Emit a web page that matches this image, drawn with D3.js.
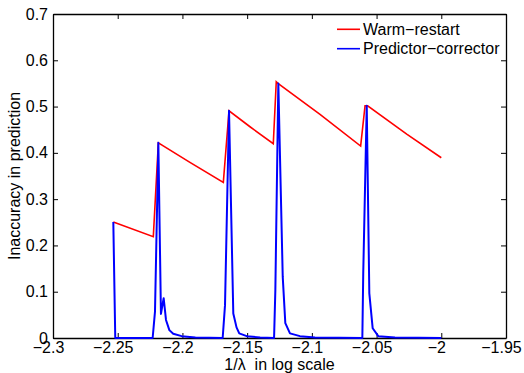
<!DOCTYPE html>
<html>
<head>
<meta charset="utf-8">
<script src="https://cdn.jsdelivr.net/npm/d3@7"></script>
<style>
  body { margin: 0; background: #fff; }
  svg { font-family: "Liberation Sans", Arial, Helvetica, sans-serif; }
</style>
</head>
<body>
<svg id="chart"></svg>
<script>
// values
const warmX = [-2.2534, -2.2225, -2.2186, -2.1942, -2.1684, -2.1640, -2.1478, -2.1298,
               -2.1275, -2.1262, -2.0937, -2.0623, -2.0589, -2.0569, -2.0267, -2.0]
const warmY = [0.2506, 0.2188, 0.4218, 0.3795, 0.3363, 0.4909, 0.4564, 0.4197,
               0.5536, 0.5501, 0.4830, 0.4147, 0.5017, 0.5017, 0.4405, 0.3894]

const pcX = [-2.2534, -2.2519, -2.2230, -2.2212, -2.2186, -2.2166, -2.2145, -2.2127, -2.2101,
             -2.2071, -2.2006, -2.19, -2.1689, -2.1671, -2.1640, -2.1607, -2.1582, -2.1561,
             -2.1503, -2.14, -2.1292, -2.1282, -2.1259, -2.1225, -2.1205, -2.1169, -2.1092,
             -2.0976, -2.0610, -2.0603, -2.0576, -2.0556, -2.0530, -2.0487, -2.0358, -2.0]
const pcY = [0.2506, 0, 0, 0.057, 0.4218, 0.052, 0.086, 0.039, 0.017,
             0.009, 0.004, 0.001, 0, 0.071, 0.4909, 0.053, 0.023, 0.010,
             0.004, 0.001, 0, 0.104, 0.550, 0.132, 0.032, 0.010, 0.004,
             0.001, 0, 0.140, 0.5017, 0.0965, 0.021, 0.004, 0.001, 0]

const xTicks = [-2.3, -2.25, -2.2, -2.15, -2.1, -2.05, -2, -1.95]
const xTickLabels = ["\u22122.3", "\u22122.25", "\u22122.2", "\u22122.15", "\u22122.1", "\u22122.05", "\u22122", "\u22121.95"]
const yTicks = [0, 0.1, 0.2, 0.3, 0.4, 0.5, 0.6, 0.7]
const yTickLabels = ["0", "0.1", "0.2", "0.3", "0.4", "0.5", "0.6", "0.7"]

const seriesNames = ["Warm\u2212restart", "Predictor\u2212corrector"]
const seriesColors = ["#ff0000", "#0000ff"]

const W = 524, H = 373
const margin = {left: 53, right: 18, top: 14, bottom: 35}

const svg = d3.select('#chart').attr('width', W).attr('height', H)

const x = d3.scaleLinear().domain([-2.3, -1.95]).range([margin.left, W - margin.right])
const y = d3.scaleLinear().domain([0, 0.7]).range([H - margin.bottom, margin.top])

// axes, ticks pointing inward like matlab
const tickFont = '16px'
svg.append('g')
  .attr('transform', `translate(0,${y(0)})`)
  .call(d3.axisBottom(x).tickValues(xTicks).tickSize(-5).tickSizeOuter(0).tickPadding(4)
    .tickFormat((d, i) => xTickLabels[i]))
  // labels sit a bit left of their tick in the original (minus sign not counted)
  .call(g => g.selectAll('text').style('font-size', tickFont).attr('fill', '#000').attr('x', -5))

svg.append('g')
  .attr('transform', `translate(0,${y(0.7)})`)
  .call(d3.axisTop(x).tickValues(xTicks).tickSize(-5).tickSizeOuter(0).tickFormat(''))

svg.append('g')
  .attr('transform', `translate(${x(-2.3)},0)`)
  .call(d3.axisLeft(y).tickValues(yTicks).tickSize(-5).tickSizeOuter(0).tickPadding(5)
    .tickFormat((d, i) => yTickLabels[i]))
  .call(g => g.selectAll('text').style('font-size', tickFont).attr('fill', '#000'))

svg.append('g')
  .attr('transform', `translate(${x(-1.95)},0)`)
  .call(d3.axisRight(y).tickValues(yTicks).tickSize(-5).tickSizeOuter(0).tickFormat(''))

svg.selectAll('.domain').attr('stroke', '#000').attr('stroke-width', 1.3)
svg.selectAll('.tick line').attr('stroke', '#000').attr('stroke-width', 1)

// lines
const line = d3.line().x(d => x(d[0])).y(d => y(d[1]))

svg.append('path')
  .datum(warmX.map((v, i) => [v, warmY[i]]))
  .attr('d', line)
  .attr('fill', 'none')
  .attr('stroke', seriesColors[0])
  .attr('stroke-width', 1.6)

svg.append('path')
  .datum(pcX.map((v, i) => [v, pcY[i]]))
  .attr('d', line)
  .attr('fill', 'none')
  .attr('stroke', seriesColors[1])
  .attr('stroke-width', 2)
  .attr('stroke-linejoin', 'round')

// axis titles
svg.append('text')
  .attr('x', (x(-2.3) + x(-1.95)) / 2)
  .attr('y', 370)
  .attr('text-anchor', 'middle')
  .style('font-size', '16px')
  .style('white-space', 'pre')
  .text('1/\u03bb  in log scale')

svg.append('text')
  .attr('transform', `translate(20,${(y(0) + y(0.7)) / 2}) rotate(-90)`)
  .attr('text-anchor', 'middle')
  .style('font-size', '16px')
  .text('Inaccuracy in prediction')

// legend, no box
const legendG = svg.selectAll('.legend')
  .data(seriesNames)
  .join('g')
  .attr('class', 'legend')
  .attr('transform', (d, i) => `translate(337,${29.3 + i * 19.4})`)

legendG.append('line')
  .attr('x1', 0).attr('x2', 23)
  .attr('stroke', (d, i) => seriesColors[i])
  .attr('stroke-width', 1.6)

legendG.append('text')
  .attr('x', 26)
  .attr('dy', '0.35em')
  .style('font-size', '16px')
  .text(d => d)
</script>
</body>
</html>
